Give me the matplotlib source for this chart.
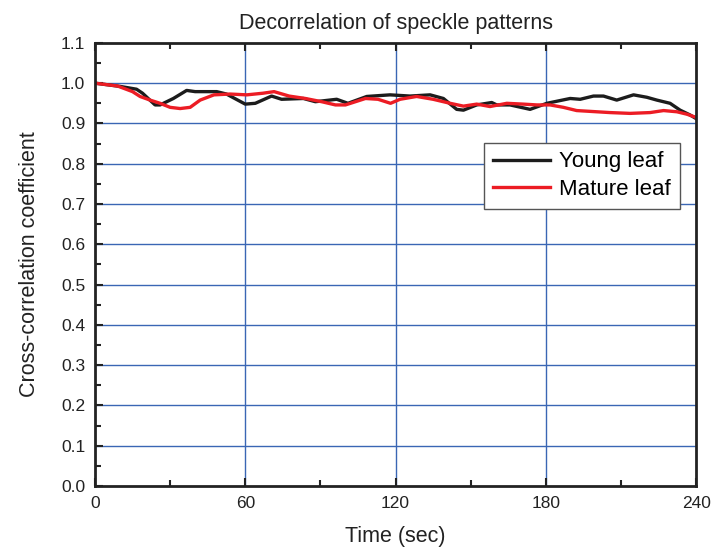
import matplotlib
matplotlib.use("Agg")
import matplotlib.pyplot as plt
from matplotlib.ticker import MultipleLocator, FormatStrFormatter

plt.rcParams['font.family'] = ['Liberation Sans', 'DejaVu Sans']

young_t = [0, 10, 16.6, 19, 24, 26, 31.3, 36.6, 40, 48.6, 52.5, 57, 60, 64, 70.5, 74.5, 83.2, 88,
           96.5, 101, 108.5, 117.8, 125.8, 133.8, 139.1, 144.4, 147.1, 152.4, 158.4, 160.4, 165.7,
           173.7, 180.4, 189.7, 193.7, 199, 203, 208.3, 215, 220.3, 224.3, 229.6, 233.6, 237.6, 240]
young_v = [1.0, 0.992, 0.985, 0.975, 0.946, 0.946, 0.962, 0.982, 0.979, 0.979, 0.973, 0.958, 0.948,
           0.95, 0.968, 0.96, 0.962, 0.954, 0.96, 0.95, 0.967, 0.971, 0.968, 0.971, 0.962, 0.935,
           0.933, 0.946, 0.952, 0.946, 0.946, 0.935, 0.95, 0.962, 0.96, 0.968, 0.968, 0.958, 0.971,
           0.965, 0.958, 0.95, 0.933, 0.921, 0.912]

mature_t = [0, 9, 15, 18, 22, 26, 30, 34, 38, 42, 47.5, 54, 60.6, 67, 71.5, 77.5, 84, 90.5, 96,
            100, 108, 113, 118, 121.8, 128.4, 135, 141.8, 147.1, 152.4, 157.7, 164.4, 171, 176.4,
            181.7, 187, 192.3, 200.3, 205.6, 213.6, 221.6, 227, 232.3, 236.3, 240]
mature_v = [1.0, 0.993, 0.979, 0.967, 0.958, 0.95, 0.94, 0.937, 0.94, 0.958, 0.971, 0.973, 0.971,
            0.975, 0.979, 0.968, 0.962, 0.954, 0.946, 0.946, 0.962, 0.96, 0.95, 0.96, 0.967, 0.96,
            0.95, 0.943, 0.948, 0.942, 0.95, 0.948, 0.946, 0.946, 0.94, 0.932, 0.929, 0.927, 0.925,
            0.927, 0.932, 0.929, 0.923, 0.915]

x_ticks = [0, 60, 120, 180, 240]
title = "Decorrelation of speckle patterns"
xlabel = "Time (sec)"
ylabel = "Cross-correlation coefficient"
labels = ["Young leaf", "Mature leaf"]

fig = plt.figure(figsize=(7.14, 5.57), dpi=100)
ax = fig.add_axes([0.133, 0.1275, 0.842, 0.7955])

grid_c = '#3a66b4'
for v in x_ticks[1:-1]:
    ax.axvline(v, color=grid_c, lw=1.0, zorder=1)
for k in range(1, 11):
    ax.axhline(k / 10, color=grid_c, lw=1.0, zorder=1)

ax.plot(young_t, young_v, color='#1c1c1c', lw=2.4, label=labels[0], zorder=3)
ax.plot(mature_t, mature_v, color='#ec1c24', lw=2.4, label=labels[1], zorder=4)

ax.set_xlim(0, 240)
ax.set_ylim(0, 1.1)
ax.set_xticks(x_ticks)
ax.xaxis.set_minor_locator(MultipleLocator(30))
ax.yaxis.set_major_locator(MultipleLocator(0.1))
ax.yaxis.set_minor_locator(MultipleLocator(0.05))
ax.yaxis.set_major_formatter(FormatStrFormatter('%.1f'))

ax.tick_params(which='both', direction='in', top=True, right=False, width=1.5, colors='#222222',
               labelsize=12.5)
ax.tick_params(which='major', length=6, pad=7)
ax.tick_params(which='minor', length=4)
for s in ax.spines.values():
    s.set_linewidth(2)
    s.set_color('#222222')
    s.set_zorder(5)

ax.set_title(title, fontsize=15.5, pad=10, color='#222222')
ax.set_xlabel(xlabel, fontsize=15.5, color='#222222', labelpad=11)
ax.set_ylabel(ylabel, fontsize=15.5, color='#222222', labelpad=15)

leg = ax.legend(loc='upper right', bbox_to_anchor=(0.973, 0.775), fontsize=16, fancybox=False,
                framealpha=1, edgecolor='#555555', handlelength=2.6, borderpad=0.4,
                labelspacing=0.3, handletextpad=0.4, borderaxespad=0)
leg.get_frame().set_linewidth(1.0)

fig.savefig("out.png", dpi=100)
